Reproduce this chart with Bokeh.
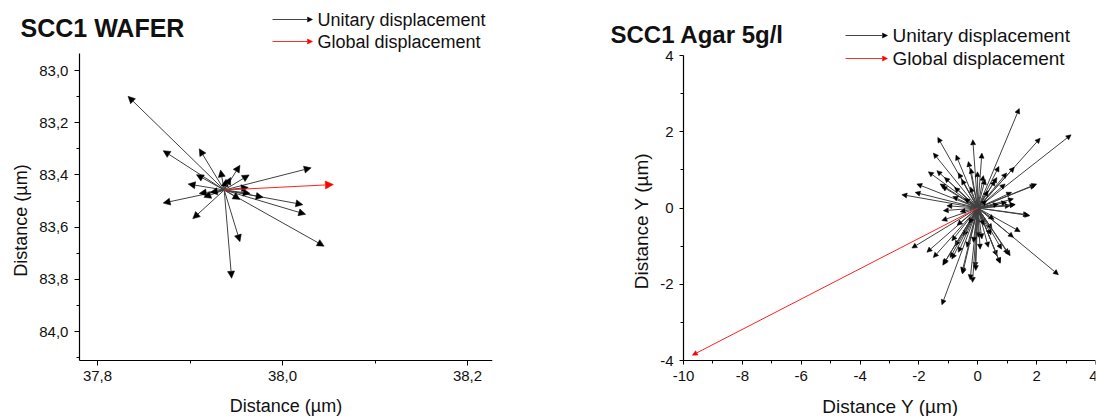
import math
from bokeh.plotting import figure
from bokeh.models import (Range1d, FixedTicker, CustomJSTickFormatter, Arrow,
                          NormalHead, ColumnDataSource, Label)
from bokeh.layouts import row
from bokeh.embed import file_html
from bokeh.resources import INLINE

FONT = "Liberation Sans"
TXT = "#111111"

# ---------------- data: SCC1 WAFER ----------------
wafer_title = "SCC1 WAFER"
wafer_origin_x = 37.937
wafer_origin_y = 83.458
wafer_unit_x_end = [37.833, 37.871, 37.910, 38.031, 37.871, 38.022, 38.025, 38.045,
                    37.903, 37.954, 37.945, 37.954, 37.933, 37.964, 37.907, 37.898,
                    37.910, 37.915, 37.979, 37.965, 37.954, 37.939, 37.922, 37.963,
                    37.944]
wafer_unit_y_end = [83.099, 83.307, 83.300, 83.373, 83.508, 83.514, 83.551, 83.673,
                    83.568, 83.656, 83.796, 83.363, 83.381, 83.400, 83.399, 83.435,
                    83.471, 83.486, 83.486, 83.471, 83.494, 83.417, 83.467, 83.448,
                    83.410]
wafer_global_x_end = [38.055]
wafer_global_y_end = [83.437]
wafer_x_ticks = [37.8, 38.0, 38.2]
wafer_x_minor = [37.9, 38.1]
wafer_y_ticks = [83.0, 83.2, 83.4, 83.6, 83.8, 84.0]
wafer_y_minor = [83.1, 83.3, 83.5, 83.7, 83.9, 84.1]
wafer_x_bounds = (37.7805, 38.227)
wafer_y_bounds = (82.935, 84.111)
wafer_xlabel = "Distance (µm)"
wafer_ylabel = "Distance (µm)"

# ---------------- data: SCC1 Agar 5g/l ----------------
agar_title = "SCC1 Agar 5g/l"
agar_origin_x = 0.0
agar_origin_y = 0.0
agar_unit_x_end = [-1.36, -0.17, -1.51, -0.74, -0.32, -0.24, -0.01, -1.68, -1.39, -1.13,
                   -0.66, -2.07, -1.28, -1.22, -0.79, -2.58, -2.13, -1.05,
                   1.41, 3.17, 2.12, 0.14, 0.19, 0.72, 1.24, 0.98, 0.65, 0.93, 1.95,
                   1.15, 1.21, 1.27, 0.98, 0.59,
                   -2.24, -1.73, -1.51, -1.19, -1.22, -0.94, -0.88, -0.77, -0.54, -0.26,
                   -0.66, -0.49, -0.37, -0.09, -1.22, -1.17, 0.02,
                   2.74, 1.44, 1.21, 1.72, 1.04, 0.76, 0.65, 0.36, 0.08, -0.18, 1.10,
                   0.81, 0.48, 0.14,
                   -0.07, -0.52, -1.16, -0.88, 0.76, 1.10, 1.77, 1.27, 2.00,
                   -0.45, 0.35, -0.30, 0.55, -0.60, 0.30, -0.25, 0.20, -0.85, 0.70,
                   -0.70, 0.45, -0.15, 0.25, -0.55]
agar_unit_y_end = [1.85, 1.79, 1.44, 1.39, 1.22, 1.04, 0.95, 0.95, 0.98, 0.80,
                   0.92, 0.63, 0.63, 0.57, 0.54, 0.35, 0.41, 0.06,
                   2.61, 1.92, 1.83, 1.44, 0.85, 1.09, 1.07, 0.92, 0.80, 0.63, 0.60,
                   0.41, 0.24, 0.09, 0.15, 0.72,
                   -1.05, -1.16, -1.30, -1.50, -2.54, -1.30, -0.86, -0.99, -1.69, -1.88,
                   -1.16, -0.73, -1.03, -1.56, -0.33, -0.07, -0.77,
                   -1.75, -0.62, -0.77, -0.18, -1.21, -1.44, -1.25, -1.03, -1.08, -1.95, 0.06,
                   -1.08, -0.55, -0.81,
                   -1.64, -1.73, -1.47, -1.34, -1.45, -1.25, -0.20, 0.09, 0.63,
                   0.25, 0.45, -0.40, -0.30, -0.10, 0.20, 0.55, -0.45, 0.30, 0.10,
                   -0.45, -0.70, -0.90, 0.75, 0.75]
agar_global_x_end = [-9.70]
agar_global_y_end = [-3.86]
agar_x_ticks = [-10, -8, -6, -4, -2, 0, 2, 4]
agar_x_minor = [-9, -7, -5, -3, -1, 1, 3]
agar_y_ticks = [-4, -2, 0, 2, 4]
agar_y_minor = [-3, -1, 1, 3]
agar_x_bounds = (-10, 4)
agar_y_bounds = (-4, 4)
agar_xlabel = "Distance Y (µm)"
agar_ylabel = "Distance Y (µm)"

legend_labels = ["Unitary displacement", "Global displacement"]

H = 416


def pix_mapper(frame, xr, yr):
    """image pixel -> data, for a frame (L, T, R, B) given in image pixels"""
    L, T, R, B = frame
    (x0, x1), (yb, yt) = xr, yr

    def to_data(px, py):
        return (x0 + (px - L) / (R - L) * (x1 - x0),
                yb + (B - py) / (B - T) * (yt - yb))
    return to_data


def make_panel(width, xr, yr, xb, yb, y_axis_at, xt, xm, yt, ym, fmt_code,
               mb_right, tick_out, ytick_standoff):
    p = figure(width=width, height=H, x_range=Range1d(*xr), y_range=Range1d(*yr),
               output_backend="svg", toolbar_location=None,
               min_border_left=0, min_border_right=mb_right,
               min_border_top=0, min_border_bottom=0)
    p.outline_line_color = None
    p.grid.visible = False
    p.background_fill_color = "white"
    p.border_fill_color = "white"
    p.xaxis.bounds = xb
    p.yaxis.bounds = yb
    p.yaxis.fixed_location = xb[0]
    p.xaxis.fixed_location = y_axis_at
    for ax, t, m in ((p.xaxis[0], xt, xm), (p.yaxis[0], yt, ym)):
        ax.ticker = FixedTicker(ticks=t, minor_ticks=m)
        ax.formatter = CustomJSTickFormatter(code=fmt_code)
        ax.axis_line_color = "black"
        ax.axis_line_width = 1.2
        ax.major_tick_line_color = "black"
        ax.minor_tick_line_color = "black"
        ax.major_tick_out = tick_out
        ax.major_tick_in = 0
        ax.minor_tick_out = 3
        ax.minor_tick_in = 0
        ax.major_label_text_font = FONT
        ax.major_label_text_font_size = "15px"
        ax.major_label_text_color = TXT
    p.xaxis.major_label_standoff = 6
    p.yaxis.major_label_standoff = ytick_standoff
    return p


def add_arrows(p, ox, oy, xe, ye, color, line_color, head):
    src = ColumnDataSource(dict(xs=[ox] * len(xe), ys=[oy] * len(ye), xe=xe, ye=ye))
    p.add_layout(Arrow(x_start="xs", y_start="ys", x_end="xe", y_end="ye", source=src,
                       line_color=line_color, line_width=1,
                       end=NormalHead(size=head, fill_color=color, line_color=color,
                                      line_width=0.5)))


def add_text(p, m, px, py, text, size, bold=False, angle=0.0, align="left"):
    """py is the vertical centre of the capital letters, in image pixels"""
    x, y = m(px, py)
    p.add_layout(Label(x=x, y=y, text=text, text_font=FONT, text_font_size=size,
                       text_font_style="bold" if bold else "normal", text_color=TXT,
                       text_align=align, text_baseline="middle", angle=angle))


def legend_entry(p, m, lx0, lx1, ly, text_y, col, lc, lab, font_px):
    a = m(lx0, ly)
    b = m(lx1, ly)
    p.add_layout(Arrow(x_start=a[0], y_start=a[1], x_end=b[0], y_end=b[1],
                       line_color=lc, line_width=1,
                       end=NormalHead(size=5, fill_color=col, line_color=col,
                                      line_width=0.5)))
    add_text(p, m, lx1 + 5, text_y, lab, font_px)


# ======================= Left panel (canvas x 0..580) =======================
# frame image x 0..492, y 0..416 ; 37.8 @ x97, 38.2 @ x467 ; 83.0 @ y70, 84.0 @ y331
w_xr = (37.8 - 97 * 0.2 / 185, 37.8 + (492 - 97) * 0.2 / 185)
w_yr = (84.0 + 85 / 261, 83.0 - 70 / 261)
p1 = make_panel(580, w_xr, w_yr, wafer_x_bounds, wafer_y_bounds, wafer_y_bounds[1],
                wafer_x_ticks, wafer_x_minor, wafer_y_ticks, wafer_y_minor,
                "return tick.toFixed(1).replace('.', ',');", 88, 5, 6)
m1 = pix_mapper((0, 0, 492, H), w_xr, w_yr)
add_text(p1, m1, 20, 27.5, wafer_title, "25px", bold=True)
legend_entry(p1, m1, 272, 312, 19, 19.7, "black", "#444444", legend_labels[0], "18px")
legend_entry(p1, m1, 272, 312, 41, 41.2, "red", "#ff3030", legend_labels[1], "18px")
add_text(p1, m1, 20, 220, wafer_ylabel, "18px", angle=math.pi / 2, align="center")
add_text(p1, m1, 285.5, 405, wafer_xlabel, "18px", align="center")
add_arrows(p1, wafer_origin_x, wafer_origin_y, wafer_unit_x_end, wafer_unit_y_end,
           "black", "#404040", 7)
add_arrows(p1, wafer_origin_x, wafer_origin_y, wafer_global_x_end, wafer_global_y_end,
           "red", "#ff2020", 8)

# ======================= Right panel (canvas x 580..1097) =======================
# frame image x 580..1095, y 0..416 ; -10 @ x683, 4 @ x1095 ; 4 @ y55, -4 @ y360
pxu = (1095 - 683) / 14.0
pyu = (360 - 55) / 8.0
a_xr = (-10 - (683 - 580) / pxu, 4)
a_yr = (-4 - (H - 360) / pyu, 4 + 55 / pyu)
p2 = make_panel(517, a_xr, a_yr, agar_x_bounds, agar_y_bounds, agar_y_bounds[0],
                agar_x_ticks, agar_x_minor, agar_y_ticks, agar_y_minor,
                "return tick.toFixed(0);", 2, 4, 6)
m2 = pix_mapper((580, 0, 1095, H), a_xr, a_yr)
add_text(p2, m2, 610, 33.9, agar_title, "24px", bold=True)
legend_entry(p2, m2, 845, 887, 35, 35, "black", "#444444", legend_labels[0], "19px")
legend_entry(p2, m2, 845, 887, 58, 58, "red", "#ff3030", legend_labels[1], "19px")
add_text(p2, m2, 640.5, 220.5, agar_ylabel, "19px", angle=math.pi / 2, align="center")
add_text(p2, m2, 890, 405.8, agar_xlabel, "19px", align="center")
add_arrows(p2, agar_origin_x, agar_origin_y, agar_unit_x_end, agar_unit_y_end,
           "black", "#404040", 5)
add_arrows(p2, agar_origin_x, agar_origin_y, agar_global_x_end, agar_global_y_end,
           "red", "#ff2020", 5)

layout = row(p1, p2)
open("out.html", "w").write(file_html(layout, INLINE))
